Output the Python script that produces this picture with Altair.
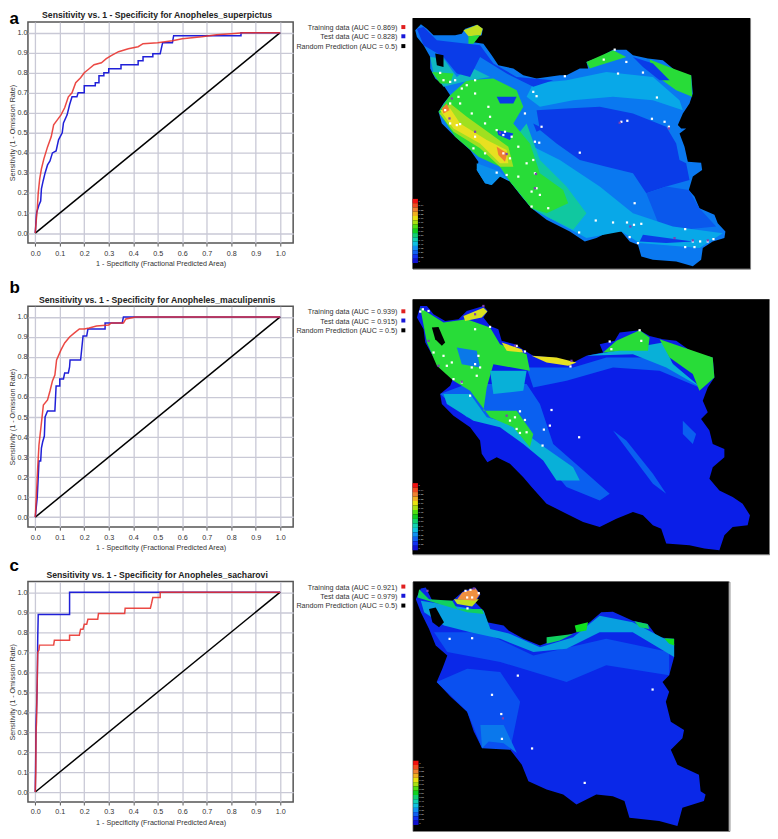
import altair as alt
import pandas as pd

FONT = "Liberation Sans"
TICKS = [round(i / 10, 1) for i in range(11)]
TITLES = ["Sensitivity vs. 1 - Specificity for Anopheles_superpictus",
          "Sensitivity vs. 1 - Specificity for Anopheles_maculipennis",
          "Sensitivity vs. 1 - Specificity for Anopheles_sacharovi"]
LETTERS = ["a", "b", "c"]
LETTER_Y = [1.045, 1.118, 1.104]
AUC_TRAIN = ["0.869", "0.939", "0.921"]
AUC_TEST = ["0.828", "0.915", "0.979"]
LEG_X = 1.479
SQ_X = 1.503
LEG_Y = [1.023, 0.977, 0.929]
SQ_Y = [1.028, 0.982, 0.933]
TITLE_X = 0.4975
TITLE_Y = 1.086
LETTER_X = -0.105

train_a = [(0,0),(0.003,0.05),(0.008,0.12),(0.012,0.2),(0.018,0.27),(0.025,0.32),(0.035,0.37),(0.05,0.43),(0.065,0.48),(0.075,0.54),(0.09,0.565),(0.105,0.59),(0.12,0.625),(0.135,0.68),(0.15,0.70),(0.165,0.75),(0.185,0.775),(0.2,0.80),(0.22,0.82),(0.24,0.84),(0.27,0.85),(0.29,0.87),(0.31,0.885),(0.34,0.905),(0.38,0.92),(0.42,0.93),(0.44,0.945),(0.5,0.95),(0.56,0.96),(0.6,0.97),(0.68,0.98),(0.74,0.99),(0.8,0.995),(0.85,1),(1,1)]
test_a = [(0,0),(0.005,0.1),(0.015,0.14),(0.022,0.16),(0.025,0.22),(0.032,0.26),(0.04,0.3),(0.05,0.34),(0.06,0.36),(0.07,0.4),(0.085,0.41),(0.095,0.465),(0.11,0.5),(0.115,0.55),(0.13,0.59),(0.14,0.64),(0.15,0.68),(0.17,0.68),(0.175,0.70),(0.2,0.70),(0.2,0.735),(0.245,0.735),(0.245,0.75),(0.26,0.75),(0.26,0.785),(0.28,0.785),(0.28,0.80),(0.3,0.80),(0.3,0.82),(0.35,0.82),(0.35,0.84),(0.42,0.84),(0.42,0.86),(0.44,0.86),(0.44,0.88),(0.48,0.88),(0.48,0.895),(0.51,0.895),(0.52,0.95),(0.56,0.95),(0.565,0.985),(0.84,0.985),(0.84,1),(1,1)]
train_b = [(0,0),(0.005,0.12),(0.01,0.25),(0.015,0.36),(0.025,0.47),(0.033,0.56),(0.05,0.585),(0.06,0.63),(0.07,0.68),(0.08,0.71),(0.087,0.785),(0.105,0.835),(0.12,0.87),(0.14,0.90),(0.16,0.92),(0.18,0.94),(0.2,0.94),(0.22,0.945),(0.25,0.955),(0.3,0.96),(0.31,0.97),(0.36,0.97),(0.37,0.99),(0.41,1),(1,1)]
test_b = [(0,0),(0.008,0.1),(0.012,0.2),(0.015,0.28),(0.022,0.28),(0.025,0.345),(0.03,0.375),(0.037,0.405),(0.04,0.5),(0.05,0.53),(0.08,0.53),(0.085,0.655),(0.1,0.655),(0.1,0.69),(0.115,0.69),(0.12,0.72),(0.135,0.72),(0.14,0.75),(0.142,0.785),(0.185,0.785),(0.195,0.905),(0.21,0.905),(0.215,0.94),(0.285,0.94),(0.285,0.97),(0.355,0.97),(0.36,1),(1,1)]
train_c = [(0,0),(0.002,0.1),(0.003,0.3),(0.005,0.35),(0.007,0.5),(0.01,0.7),(0.015,0.71),(0.017,0.735),(0.075,0.735),(0.078,0.76),(0.14,0.76),(0.14,0.785),(0.18,0.785),(0.185,0.815),(0.195,0.815),(0.2,0.84),(0.21,0.84),(0.215,0.865),(0.255,0.865),(0.258,0.893),(0.365,0.893),(0.367,0.92),(0.47,0.92),(0.475,0.945),(0.48,0.973),(0.51,0.973),(0.51,1),(1,1)]
test_c = [(0,0),(0.003,0.33),(0.006,0.45),(0.008,0.55),(0.01,0.77),(0.012,0.888),(0.14,0.888),(0.14,1),(1,1)]
random_line = [(0,0),(1,1)]

BAND_COLORS = ["#f01010","#f04a20","#f08030","#f0b020","#e8e010","#a8e010","#50e010","#10d020","#10d070","#10d0b0","#10c0e0","#1090f0","#1060f0","#1030f0","#1010d0"]

# Map A, traced in reference pixels x3
frame_a = [(37,53),(1052,53),(1052,807),(37,807)]
outline_a = [(62,72),(80,85),(100,105),(130,105),(165,105),(185,100),(195,85),(230,73),(248,85),(245,105),(225,110),(215,125),(250,130),(275,165),(295,195),(340,205),(370,225),(410,235),(480,225),(500,225),(540,205),(565,205),(560,185),(600,170),(640,148),(680,148),(700,165),(745,175),(790,180),(820,205),(845,225),(875,225),(880,280),(870,310),(850,340),(835,375),(845,385),(860,385),(840,400),(855,440),(865,485),(905,488),(908,510),(880,530),(868,570),(885,590),(900,625),(945,645),(955,670),(978,695),(975,715),(940,725),(910,745),(905,780),(880,800),(830,785),(760,780),(725,770),(715,735),(690,725),(665,695),(640,690),(590,715),(555,725),(510,695),(440,660),(395,625),(365,590),(330,545),(300,530),(275,555),(255,550),(230,510),(235,485),(210,450),(165,410),(125,370),(115,335),(130,310),(150,285),(130,255),(105,235),(90,205),(90,170),(70,135),(50,110),(45,90)]
zones_a = [
 ("#0a78f0", outline_a),
 ("#0a3ce8", [(410,330),(500,325),(600,320),(700,340),(800,380),(830,430),(840,480),(860,490),(870,540),(800,560),(740,580),(700,520),(620,500),(540,480),(470,430),(420,390)]),
 ("#0a58ec", [(740,580),(800,560),(868,570),(900,625),(950,680),(850,690),(780,680),(760,630)]),
 ("#08a8e8", [(400,250),(500,240),(620,215),(760,230),(840,300),(850,330),(760,300),(640,290),(520,300),(420,320),(380,290)]),
 ("#08a8e8", [(400,440),(480,480),(600,560),(700,640),(820,680),(970,700),(900,745),(720,730),(665,695),(560,715),(440,650),(400,560)]),
 ("#10c8a0", [(380,370),(420,480),(500,560),(560,640),(520,690),(440,650),(395,625),(330,545),(300,500),(340,420)]),
 ("#28dc38", [(115,335),(150,285),(200,240),(280,235),(350,270),(370,320),(340,370),(390,430),(420,520),(490,570),(505,610),(440,640),(395,625),(330,545),(300,500),(235,470),(165,410)]),
 ("#a0e020", [(118,340),(150,310),(200,350),(270,400),(325,440),(340,500),(300,500),(240,445),(160,395)]),
 ("#e8e020", [(120,330),(150,325),(180,370),(260,420),(320,450),(325,490),(300,490),(240,430),(160,385)]),
 ("#f08030", [(125,325),(140,310),(148,330),(130,340)]),
 ("#f08030", [(290,440),(322,460),(315,485),(295,465)]),
 ("#0a90ec", [(230,490),(300,515),(330,545),(300,530),(275,555),(255,550),(230,510)]),
 ("#28dc38", [(560,185),(640,150),(680,170),(600,195),(570,205)]),
 ("#28dc38", [(750,178),(820,205),(875,225),(878,290),(830,270),(760,220)]),
 ("#10b8c0", [(90,170),(130,175),(170,230),(210,200),(270,230),(210,240),(130,260),(100,220)]),
 ("#28dc38", [(95,215),(160,220),(150,250),(120,250)]),
 ("#0a3ce8", [(50,85),(70,80),(110,120),(240,135),(280,190),(350,230),(460,240),(400,260),(320,220),(240,170),(210,230),(170,220),(130,170),(70,135)]),
 ("#0a3ce8", [(700,170),(760,190),(810,240),(780,240),(730,200)]),
 ("#0a3ce8", [(290,290),(350,290),(340,310),(300,310)]),
 ("#0a3ce8", [(290,390),(340,400),(330,420),(295,405)]),
 ("#0a3ce8", [(400,370),(430,385),(410,395)]),
 ("#0a3ce8", [(730,705),(880,725),(800,730),(720,725)]),
 ("#c0e020", [(190,90),(232,73),(248,85),(242,105),(205,108)]),
 ("#28dc38", [(205,108),(240,105),(220,130),(205,130)]),
 ("#000000", [(105,160),(130,165),(130,200),(110,195)]),
]
white_a = [(120,218),(130,240),(150,245),(165,240),(185,265),(200,255),(225,240),(175,290),(150,310),(135,330),(180,310),(215,340),(265,320),(225,280),(270,350),(150,370),(170,375),(180,372),(225,410),(255,370),(290,390),(315,395),(310,405),(335,410),(355,440),(310,460),(330,475),(255,460),(220,445),(290,518),(320,525),(355,530),(380,490),(400,480),(405,520),(410,565),(395,575),(420,585),(395,620),(445,625),(400,275),(410,288),(375,340),(425,380),(405,425),(418,428),(540,458),(665,365),(683,362),(757,356),(795,365),(808,380),(705,610),(588,662),(640,668),(682,668),(703,675),(725,672),(538,698),(690,712),(715,730),(857,688),(857,742),(885,742),(880,725),(902,725),(925,725),(942,718),(730,217),(655,220),(495,228),(612,178),(645,148),(680,185),(772,292)]
purple_a = [(148,355),(155,295),(225,395),(300,398),(320,462),(405,565),(408,522),(660,368),(808,385),(692,680),(825,715),(880,722),(925,722)]
bar_a = (37, 53, 597, 790)

# Map B
frame_b = [(37,35),(1110,35),(1110,802),(37,802)]
outline_b = [(60,55),(80,55),(100,80),(135,100),(175,95),(200,70),(250,55),(263,70),(250,90),(270,115),(295,125),(305,160),(345,170),(375,190),(400,205),(460,210),(520,225),(560,205),(610,195),(600,170),(645,160),(660,135),(720,128),(750,145),(790,155),(830,160),(880,195),(940,210),(945,270),(925,300),(910,340),(925,375),(905,395),(930,430),(940,470),(975,485),(975,510),(940,540),(930,575),(960,610),(1000,630),(1030,650),(1052,685),(1045,715),(1000,720),(975,745),(960,790),(915,785),(870,775),(800,770),(785,725),(760,715),(730,685),(700,675),(650,695),(600,720),(550,705),(500,680),(440,650),(395,600),(370,570),(330,530),(290,510),(262,525),(245,500),(240,460),(210,420),(160,385),(125,350),(120,320),(150,295),(160,270),(120,240),(95,200),(75,165),(70,125),(50,90)]
zones_b = [
 ("#0a1ee8", outline_b),
 ("#0a60f0", [(120,320),(200,290),(380,290),(420,350),(460,470),(540,540),(630,620),(600,640),(500,600),(400,480),(300,400),(200,390)]),
 ("#0a60f0", [(380,240),(520,240),(620,210),(800,210),(900,300),(780,250),(640,240),(500,280),(400,300)]),
 ("#0a60f0", [(640,430),(680,460),(760,560),(800,620),(760,590),(700,510)]),
 ("#0a60f0", [(850,400),(890,440),(880,470),(850,440)]),
 ("#08b0d8", [(130,320),(210,320),(260,390),(340,410),(420,470),(520,540),(540,580),(470,580),(430,520),(370,470),(300,420),(220,400),(140,350)]),
 ("#28dc38", [(60,60),(130,105),(200,95),(270,120),(300,170),(380,200),(390,250),(280,230),(260,300),(250,370),(350,370),(400,440),(390,480),(340,420),(270,390),(210,310),(160,280),(110,235),(80,165)]),
 ("#0a78e8", [(170,180),(230,190),(240,240),(185,230)]),
 ("#08b0d8", [(270,250),(380,250),(370,310),(280,320)]),
 ("#d8e020", [(190,85),(250,60),(262,72),(245,90),(195,100)]),
 ("#e8e020", [(305,165),(365,185),(370,195),(320,190)]),
 ("#e8e020", [(395,205),(470,210),(530,225),(505,235),(440,225)]),
 ("#08b0d8", [(560,205),(650,190),(790,165),(820,230),(905,300),(800,240),(700,200)]),
 ("#28dc38", [(650,160),(720,128),(750,150),(745,190),(660,190),(610,195)]),
 ("#28dc38", [(780,155),(940,210),(945,270),(900,310),(880,260),(810,210)]),
 ("#000000", [(95,120),(115,118),(135,165),(125,175),(105,155)]),
]
white_b = [(68,65),(85,70),(60,72),(225,125),(270,118),(350,175),(375,192),(512,237),(630,162),(635,185),(725,160),(720,128),(100,195),(130,205),(140,235),(155,225),(215,240),(240,240),(230,265),(160,275),(185,285),(210,325),(360,372),(455,368),(345,390),(330,400),(375,398),(350,425),(380,435),(360,437),(450,415),(432,427),(538,450),(428,475),(235,205),(225,230)]
purple_b = [(225,80),(345,175),(515,220),(115,235),(185,283),(320,385),(250,55),(85,160)]
bar_b = (37, 53, 588, 790)

# Map C
frame_c = [(37,37),(990,37),(990,790),(37,790)]
outline_c = [(60,58),(75,55),(85,75),(95,95),(155,95),(190,65),(225,55),(240,75),(225,100),(250,125),(260,160),(310,170),(325,185),(370,210),(420,230),(500,200),(530,190),(570,160),(605,130),(640,128),(700,155),(745,165),(775,205),(825,210),(825,265),(810,320),(790,340),(810,370),(800,400),(815,460),(855,485),(850,510),(815,545),(835,590),(900,620),(905,670),(920,680),(915,700),(850,720),(835,775),(780,760),(690,750),(675,700),(640,685),(590,680),(530,710),(490,680),(440,665),(385,640),(365,590),(330,545),(310,525),(265,520),(245,540),(220,490),(200,430),(150,385),(108,340),(125,300),(140,260),(105,230),(85,180),(60,130),(45,90)]
zones_c = [
 ("#0a28e8", outline_c),
 ("#0a50f0", [(108,340),(200,300),(300,310),(360,400),(330,545),(245,540),(200,430)]),
 ("#0a50f0", [(100,190),(250,190),(400,260),(620,210),(810,250),(810,320),(620,290),(500,340),(300,280),(140,250)]),
 ("#0a78ec", [(240,470),(310,470),(350,555),(310,525),(265,520),(245,540)]),
 ("#08a0e0", [(60,95),(250,125),(270,180),(330,195),(420,235),(520,205),(600,140),(700,160),(825,225),(825,265),(700,190),(600,190),(500,240),(400,250),(300,210),(210,190),(130,170),(70,130)]),
 ("#10d060", [(55,60),(85,90),(155,95),(170,120),(245,120),(250,135),(200,130),(100,100),(50,85)]),
 ("#10e020", [(525,170),(565,160),(560,185),(530,190)]),
 ("#10d060", [(440,205),(520,195),(480,215),(440,225)]),
 ("#10e020", [(795,208),(825,210),(825,230),(810,225)]),
 ("#10d060", [(705,157),(745,165),(750,180),(720,175)]),
 ("#c0e020", [(160,90),(235,90),(215,112),(170,105)]),
 ("#f09040", [(185,70),(225,57),(238,75),(225,95),(170,90)]),
 ("#000000", [(85,120),(105,115),(130,160),(115,175),(95,160)]),
]
white_c = [(147,210),(215,208),(353,321),(275,379),(303,437),(305,512),(396,541),(555,645),(760,363),(195,65),(210,62),(200,85),(215,85),(235,72),(201,118)]
purple_c = [(308,450),(220,58),(80,65)]
bar_c = (37, 53, 578, 772)

BAR_LABELS = ["1","0.94","0.88","0.82","0.76","0.71","0.65","0.59","0.53","0.47","0.41","0.35","0.29","0.18","0"]


def poly(pts, color):
    ring = [list(p) for p in pts] + [list(pts[0])]
    return {"type": "Feature", "properties": {"c": color},
            "geometry": {"type": "Polygon", "coordinates": [ring]}}


def map_panel(frame, zones, white, purple, bar, w, h):
    feats = [poly(frame, "#000000")] + [poly(p, c) for c, p in zones]
    x0, x1, y0, y1 = bar
    n = len(BAND_COLORS)
    step = (y1 - y0) / n
    for i, c in enumerate(BAND_COLORS):
        t, b = y0 + i * step, y0 + (i + 1) * step
        feats.append(poly([(x0, t), (x1, t), (x1, b), (x0, b)], c))
    proj = alt.Projection(type="identity")
    base = alt.Chart(alt.Data(values=feats)).mark_geoshape(strokeWidth=0).encode(
        color=alt.Color("properties.c:N", scale=None)).properties(projection=proj)
    pts = pd.DataFrame(white, columns=["x", "y"])
    white_layer = alt.Chart(pts).mark_square(size=5, color="#ffffff", opacity=1).encode(
        longitude="x:Q", latitude="y:Q")
    pur = pd.DataFrame(purple, columns=["x", "y"])
    pur_layer = alt.Chart(pur).mark_square(size=5, color="#8040b0", opacity=1).encode(
        longitude="x:Q", latitude="y:Q")
    labels = pd.DataFrame({"t": BAR_LABELS,
                           "x": [x1 + 2] * n,
                           "y": [y0 + (i + .5) * step for i in range(n)]})
    lab_layer = alt.Chart(labels).mark_text(fontSize=2.5, color="#dddddd", align="left",
                                            baseline="middle", font=FONT).encode(
        longitude="x:Q", latitude="y:Q", text="t:N")
    return alt.layer(base, white_layer, pur_layer, lab_layer).properties(
        width=w, height=h, view=alt.ViewBackground(stroke="#777777", strokeWidth=1))


def roc_panel(idx, train, test, h, W=265.9):
    xs = alt.Scale(domain=[-0.03, 1.053], nice=False, zero=False)
    ys = alt.Scale(domain=[-0.05, 1.053], nice=False, zero=False)
    x_axis = alt.Axis(values=TICKS, format=".1f", title="1 - Specificity  (Fractional Predicted Area)",
                      grid=True, gridColor="#c9c9d6", gridWidth=1.3, domain=False, ticks=True,
                      tickColor="#555555", tickSize=3, labelFontSize=7.2, titleFontSize=7.2,
                      labelFont=FONT, titleFont=FONT, titleFontWeight="normal",
                      labelColor="#333333", titleColor="#333333", labelPadding=3, titlePadding=3,
                      labelFlush=False)
    y_axis = alt.Axis(values=TICKS, format=".1f", title="Sensitivity  (1 - Omission Rate)",
                      grid=True, gridColor="#c9c9d6", gridWidth=1.3, domain=False, ticks=False,
                      labelFontSize=7.2, titleFontSize=7.2,
                      labelFont=FONT, titleFont=FONT, titleFontWeight="normal",
                      labelColor="#333333", titleColor="#333333", labelPadding=1, titlePadding=0,
                      labelFlush=False)

    def X(field):
        return alt.X(field, scale=xs, axis=x_axis)

    def Y(field):
        return alt.Y(field, scale=ys, axis=y_axis)

    def curve(pts, color, opacity=1.0):
        df = pd.DataFrame(pts, columns=["x", "y"]).reset_index()
        return alt.Chart(df).mark_line(color=color, strokeWidth=1.5, opacity=opacity, clip=False).encode(
            x=X("x:Q"), y=Y("y:Q"), order="index:Q")

    leg_text = ["Training data (AUC = %s)" % AUC_TRAIN[idx],
                "Test data (AUC = %s)" % AUC_TEST[idx],
                "Random Prediction (AUC = 0.5)"]
    leg_colors = ["#e02020", "#1818d8", "#000000"]
    leg = pd.DataFrame({"t": leg_text, "c": leg_colors, "lx": [LEG_X] * 3, "ly": LEG_Y,
                        "sx": [SQ_X] * 3, "sy": SQ_Y})
    txt = alt.Chart(leg).mark_text(fontSize=7.2, font=FONT, color="#333333", align="right", baseline="middle").encode(
        text="t:N", x=X("lx:Q"), y=Y("ly:Q"))
    sq = alt.Chart(leg).mark_square(size=16, opacity=1).encode(
        x=X("sx:Q"), y=Y("sy:Q"), color=alt.Color("c:N", scale=None))
    let = alt.Chart(pd.DataFrame({"t": [LETTERS[idx]], "lx": [LETTER_X], "ly": [LETTER_Y[idx]]})).mark_text(
        fontSize=17, fontWeight="bold", font=FONT, color="#000000", align="left", baseline="alphabetic").encode(
        text="t:N", x=X("lx:Q"), y=Y("ly:Q"))
    ttl = alt.Chart(pd.DataFrame({"t": [TITLES[idx]], "lx": [TITLE_X], "ly": [TITLE_Y]})).mark_text(
        fontSize=8.7, fontWeight="bold", font=FONT, color="#222222", align="center", baseline="middle").encode(
        text="t:N", x=X("lx:Q"), y=Y("ly:Q"))
    layered = alt.layer(curve(random_line, "#000000"), curve(test, "#2020d8"), curve(train, "#e8302a", 0.88),
                        txt, sq, let, ttl)
    return layered.properties(
        width=W, height=h,
        view=alt.ViewBackground(stroke="#555555", strokeWidth=1.5))


def spacer(h):
    return alt.Chart(pd.DataFrame({"v": [0]})).mark_point(opacity=0).properties(width=1, height=h)


left = alt.vconcat(spacer(4),
                   roc_panel(0, train_a, test_a, 221.6),
                   spacer(62.5),
                   roc_panel(1, train_b, test_b, 221.4),
                   spacer(53.4),
                   roc_panel(2, train_c, test_c, 221),
                   spacing=0, bounds="flush")
right = alt.vconcat(map_panel(frame_a, zones_a, white_a, purple_a, bar_a, 338.4, 251.3),
                    spacer(29.5),
                    map_panel(frame_b, zones_b, white_b, purple_b, bar_b, 357.7, 255.6),
                    spacer(26.5),
                    map_panel(frame_c, zones_c, white_c, purple_c, bar_c, 317.7, 250),
                    spacing=0, bounds="flush")
chart = alt.hconcat(left, right, spacing=2.6, background="#ffffff",
                    padding={"left": 0, "right": 0, "top": -1, "bottom": 0}).configure_view(stroke=None)

chart.save("out.html", embed_options={"renderer": "svg", "actions": False})
